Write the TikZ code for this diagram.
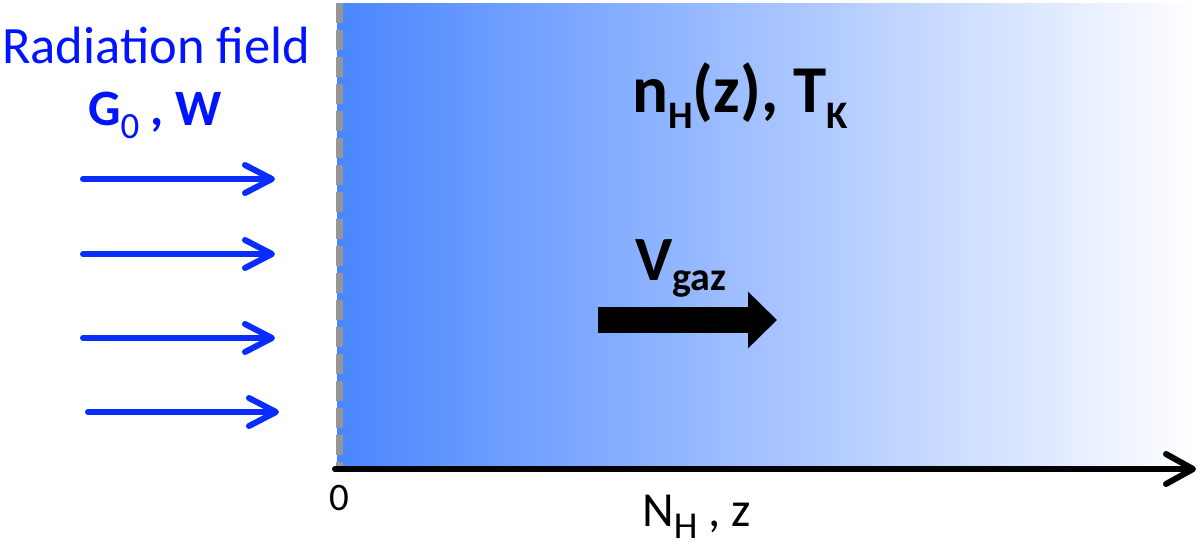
\documentclass[tikz,border=0pt]{standalone}
\usepackage{fontspec}
\setmainfont{Carlito}
\usetikzlibrary{arrows.meta}
\definecolor{slabblue}{RGB}{74,134,255}
\definecolor{rayblue}{RGB}{10,45,255}
\definecolor{textblue}{RGB}{0,20,255}
\definecolor{dashgray}{RGB}{150,150,150}
\newcommand\lowtext[3]{\raisebox{#1}{\fontsize{#2}{#2}\selectfont #3}}
\tikzset{
  ray/.style={draw=rayblue, line width=6pt, line cap=round,
    -{Straight Barb[length=27pt,width=28pt,line cap=round,line join=round]}},
  lbl/.style={inner sep=0pt, anchor=base west},
}
\begin{document}
\begin{tikzpicture}[x=1pt,y=-1pt]
\useasboundingbox (0,0) rectangle (1200,547);
% gas slab
\fill[left color=slabblue, right color=white] (337,3) rectangle (1199,466);
\coordinate (dtop) at (339,3);
\coordinate (dbot) at (339,466);
\draw[dashgray, line width=7pt, dash pattern=on 20pt off 7pt] (dtop) -- (dbot);
% axis
\coordinate (ax0) at (335,469);
\coordinate (ax1) at (1196,469);
\draw[line width=6pt, line cap=round,
  -{Straight Barb[length=27pt,width=30pt,line cap=round,line join=round]}] (ax0) -- (ax1);
% radiation arrows
\coordinate (r1a) at (83,179);  \coordinate (r1b) at (275,179);
\coordinate (r2a) at (83,254);  \coordinate (r2b) at (275,254);
\coordinate (r3a) at (83,338);  \coordinate (r3b) at (275,338);
\coordinate (r4a) at (88,412);  \coordinate (r4b) at (279,412);
\draw[ray] (r1a) -- (r1b);
\draw[ray] (r2a) -- (r2b);
\draw[ray] (r3a) -- (r3b);
\draw[ray] (r4a) -- (r4b);
% gas velocity arrow
\coordinate (va) at (598,320);
\coordinate (vb) at (777,320);
\draw[line width=26pt, -{Triangle[length=29pt,width=55pt]}] (va) -- (vb);
% labels
\node[lbl, text=textblue] (rad) at (2,63) {\fontsize{52.5pt}{52pt}\selectfont Radiation field};
\node[lbl, text=textblue] (gw) at (88,125) {\fontsize{51pt}{51pt}\selectfont\bfseries G\lowtext{-13pt}{37pt}{\mdseries 0} , W};
\node[lbl] (nt) at (632,112) {\fontsize{67pt}{67pt}\selectfont\bfseries n\lowtext{-16pt}{39pt}{H}(z), T\lowtext{-16pt}{39pt}{K}};
\node[lbl] (vg) at (635,280) {\fontsize{63pt}{63pt}\selectfont\bfseries V\lowtext{-10pt}{40pt}{gaz}};
\node[inner sep=0pt, anchor=base] (zero) at (339,510) {\fontsize{39pt}{39pt}\selectfont 0};
\node[lbl] (nz) at (642,526) {\fontsize{49pt}{49pt}\selectfont N\lowtext{-12pt}{38pt}{H} , z};
\end{tikzpicture}
\end{document}
